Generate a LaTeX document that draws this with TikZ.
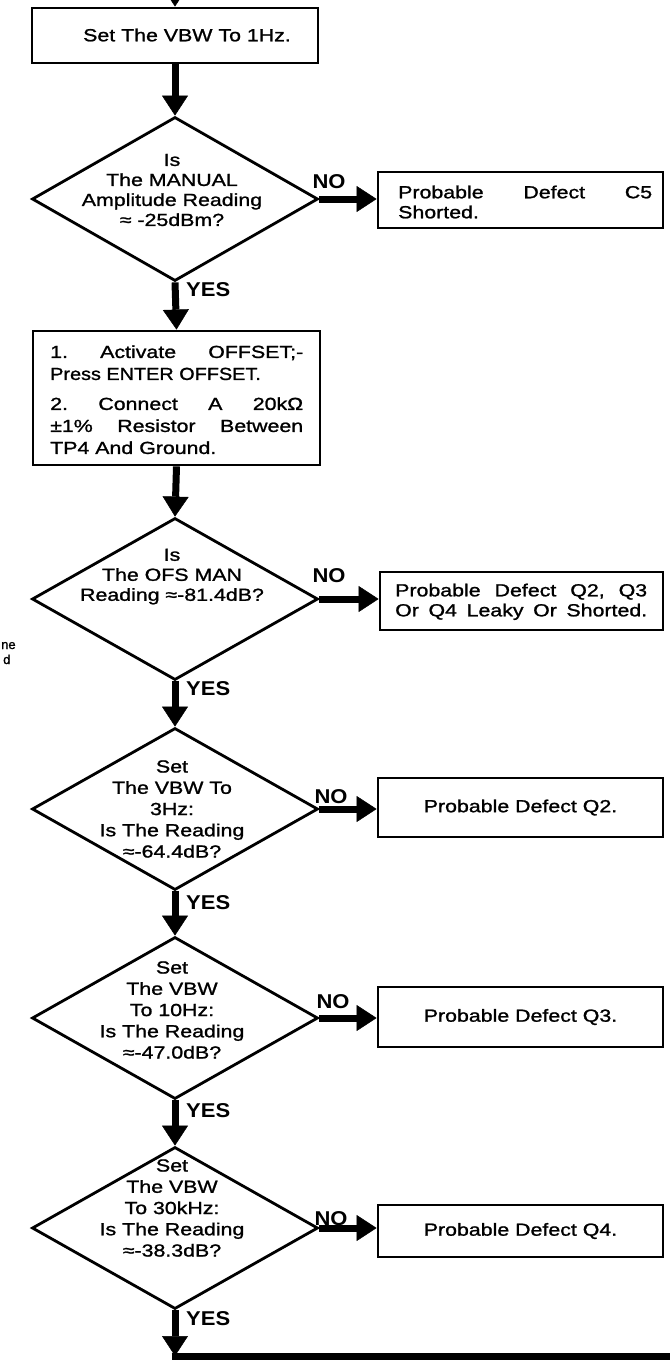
\documentclass[tikz,border=0pt]{standalone}
\usepackage{fontspec}
\setmainfont{Liberation Sans}[FakeStretch=1.22,FakeBold=1.2]
\newfontfamily\lblfont{Liberation Sans}[FakeStretch=1.1]
\newfontfamily\fragfont{Liberation Sans}[FakeBold=1]
\usetikzlibrary{shapes.geometric,arrows.meta}
\begin{document}
\begin{tikzpicture}[x=1pt,y=-1pt,
  box/.style={draw,line width=2.8pt,rectangle,inner sep=0pt},
  dia/.style={draw,line width=2.8pt,diamond,inner sep=0pt,minimum width=286pt,minimum height=164pt},
  txt/.style={font=\fontsize{17.5}{20}\selectfont,inner sep=0pt},
  dtxt/.style={txt,align=center},
  dtxtb/.style={font=\fontsize{17.5}{21.25}\selectfont,inner sep=0pt,align=center},
  lbl/.style={font=\lblfont\bfseries\fontsize{20}{22}\selectfont,inner sep=0pt},
  frag/.style={font=\fragfont\fontsize{13}{15}\selectfont,inner sep=0pt},
  flow/.style={line width=7pt,-{Triangle[width=26pt,length=20pt,line width=0.5pt]}},
  plain/.style={line width=7pt}]
\path[use as bounding box,fill=white] (0,0) rectangle (670,1361);

% shapes
\coordinate (in) at (175,-30);
\node[box,minimum width=286pt,minimum height=55pt] (b1) at (175,35.5) {};
\node[dia] (d1) at (175,199) {};
\node[box,minimum width=285pt,minimum height=56pt] (c5) at (520.5,200) {};
\node[box,minimum width=287pt,minimum height=134pt] (b2) at (176.5,398) {};
\node[dia,minimum height=162pt] (d2) at (175,599) {};
\node[box,minimum width=283pt,minimum height=58pt] (q23) at (521.5,601) {};
\node[dia,minimum height=162pt] (d3) at (175,809) {};
\node[box,minimum width=285pt,minimum height=59pt,font=\fontsize{17.5}{20}\selectfont] (q2) at (520.5,807.5) {Probable Defect Q2.};
\node[dia,minimum height=162pt] (d4) at (175,1018) {};
\node[box,minimum width=285pt,minimum height=60pt,font=\fontsize{17.5}{20}\selectfont] (q3) at (520.5,1017) {Probable Defect Q3.};
\node[dia,minimum height=162pt] (d5) at (175,1228) {};
\node[box,minimum width=285pt,minimum height=52pt,font=\fontsize{17.5}{20}\selectfont] (q4) at (520.5,1231) {Probable Defect Q4.};
\coordinate (j) at (175,1356);
\coordinate (e) at (670,1356);

% texts
\node[txt] (b1t) at (187,35) {Set The VBW To 1Hz.};
\node[dtxt] (d1t) at (172,190) {Is\\The MANUAL\\Amplitude Reading\\≈ -25dBm?};
\node[txt,anchor=west,align=left] (c5t) at (398,202) {\hbox to 254pt{Probable\hfill Defect\hfill C5}\\Shorted.};
\node[txt,anchor=west,align=left,font=\fontsize{17.5}{22}\selectfont] (b2t) at (50,399.7)
  {\hbox to 253pt{1.\hfill Activate\hfill OFFSET;-}\\
   \scalebox{0.93}[1]{Press ENTER OFFSET.}\\[8pt]
   \hbox to 253pt{2.\hfill Connect\hfill A\hfill 20kΩ}\\
   \hbox to 253pt{±1\%\hfill Resistor\hfill Between}\\
   TP4 And Ground.};
\node[dtxt] (d2t) at (172,576.6) {Is\\The OFS MAN\\Reading ≈-81.4dB?};
\node[txt,anchor=west,align=left] (q23t) at (395,601.8) {\hbox to 252pt{Probable\hfill Defect\hfill Q2,\hfill Q3}\\\hbox to 252pt{Or\hfill Q4\hfill Leaky\hfill Or\hfill Shorted.}};
\node[dtxtb] (d3t) at (172,809) {Set\\The VBW To\\3Hz:\\Is The Reading\\≈-64.4dB?};
\node[dtxtb] (d4t) at (172,1010) {Set\\The VBW\\To 10Hz:\\Is The Reading\\≈-47.0dB?};
\node[dtxtb] (d5t) at (172,1208) {Set\\The VBW\\To 30kHz:\\Is The Reading\\≈-38.3dB?};

% labels
\node[lbl] (no1) at (329,182) {NO};
\node[lbl] (no2) at (329,576) {NO};
\node[lbl] (no3) at (331,797) {NO};
\node[lbl] (no4) at (333,1002) {NO};
\node[lbl] (no5) at (331,1219) {NO};
\node[lbl,anchor=west] (y1) at (186,290) {YES};
\node[lbl,anchor=west] (y2) at (186,688.5) {YES};
\node[lbl,anchor=west] (y3) at (186,903) {YES};
\node[lbl,anchor=west] (y4) at (186,1111) {YES};
\node[lbl,anchor=west] (y5) at (186,1318.5) {YES};

% fragments at left edge
\node[frag,anchor=base west] (f1) at (1,649) {ne};
\node[frag,anchor=base west] (f2) at (3,664) {d};

% connectors
\draw[flow] (in) -- (b1.north);
\draw[flow] (b1.south) -- (d1.north);
\draw[flow] (d1.east) -- (c5.west |- d1.east);
\draw[flow] (d1.south) -- (b2.north);
\draw[flow] (b2.south) -- (d2.north);
\draw[flow] (d2.east) -- (q23.west |- d2.east);
\draw[flow] (d2.south) -- (d3.north);
\draw[flow] (d3.east) -- (q2.west |- d3.east);
\draw[flow] (d3.south) -- (d4.north);
\draw[flow] (d4.east) -- (q3.west |- d4.east);
\draw[flow] (d4.south) -- (d5.north);
\draw[flow] (d5.east) -- (q4.west |- d5.east);
\draw[flow] (d5.south) -- (j);
\draw[plain] ([xshift=-3.5pt]j) -- (e);
\end{tikzpicture}
\end{document}
